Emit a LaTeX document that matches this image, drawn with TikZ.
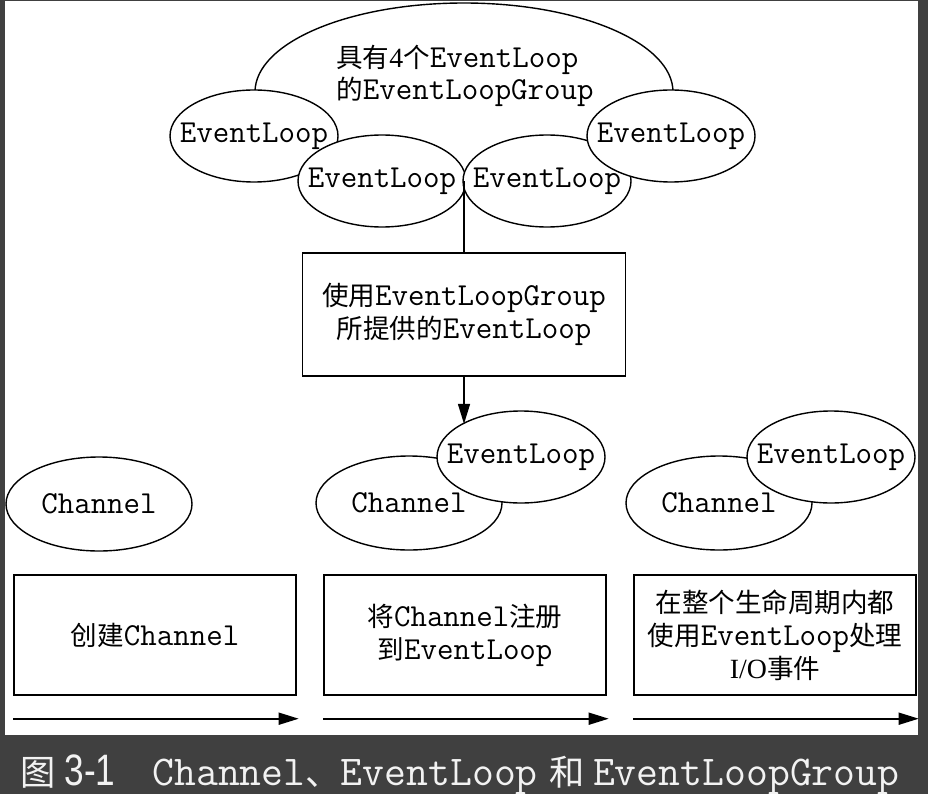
\documentclass[tikz,border=0pt]{standalone}
\usepackage{fontspec}
\setmainfont[Scale=0.87]{Liberation Serif}
\newfontfamily\hanzifont[Scale=0.83]{Noto Sans CJK SC}
\newfontfamily\capsans[FakeStretch=0.8]{Liberation Sans}
\newcommand{\hz}[1]{{\hanzifont #1}}
\usetikzlibrary{shapes.geometric,arrows.meta}
\definecolor{framegray}{HTML}{404040}
\definecolor{captext}{HTML}{F2F2F2}

\begin{document}
\begin{tikzpicture}[
    x=1pt, y=-1pt,
    >={Triangle[length=20pt,width=12pt]},
    evloop/.style={
        ellipse, draw, fill=white, line width=1.4pt,
        minimum width=168pt, minimum height=92pt,
        inner xsep=-20pt, inner ysep=0pt,
        font=\ttfamily\fontsize{32}{33}\selectfont
    },
    chan/.style={evloop, minimum width=186pt, minimum height=94pt},
    stagebox/.style={
        rectangle, draw, fill=white, line width=1.4pt,
        minimum width=282pt, minimum height=120pt, inner sep=0pt,
        align=center, font=\ttfamily\fontsize{32}{33}\selectfont
    }
]

    % Marc
    \useasboundingbox (0,0) rectangle (928,794);
    \fill[framegray] (0,0) rectangle (928,794);
    \fill[white] (5,1) rectangle (918,735);

    % EventLoopGroup
    \node[
        ellipse, draw, fill=white, line width=1.4pt,
        minimum width=418pt, minimum height=178pt
    ] (group) at (464,92) {};
    \node[align=left, inner sep=0pt,
        font=\ttfamily\fontsize{32}{32}\selectfont] (grouptext) at (465,76)
        {\hz{具有}\rmfamily 4\hz{个}\ttfamily EventLoop\\\hz{的}EventLoopGroup};

    % EventLoops del grup
    \node[evloop] (el1) at (254,136) {EventLoop};
    \node[evloop] (el2) at (382,181) {EventLoop};
    \node[evloop] (el3) at (547,181) {EventLoop};
    \node[evloop] (el4) at (671,136) {EventLoop};
    \coordinate (join) at (464,181);

    % Assignacio
    \node[stagebox, minimum width=323pt, minimum height=123pt] (pick) at (464,314.5)
        {\hz{使用}EventLoopGroup\\\hz{所提供的}EventLoop};
    \draw[line width=1.3pt] (join) -- (pick);

    % Channels
    \node[chan] (ch1) at (99,504) {Channel};
    \node[chan] (ch2) at (409,503) {Channel};
    \node[evloop] (el5) at (521,457) {EventLoop};
    \node[chan] (ch3) at (719,503) {Channel};
    \node[evloop] (el6) at (831,457) {EventLoop};
    \draw[->, line width=1.3pt] (pick.south) -- (pick.south |- el5.151);

    % Etapes
    \node[stagebox] (b1) at (155,635) {\hz{创建}Channel};
    \node[stagebox] (b2) at (465,635)
        {\hz{将}Channel\hz{注册}\\\hz{到}EventLoop};
    \node[stagebox] (b3) at (775,635)
        {\hz{在整个生命周期内都}\\\hz{使用}EventLoop\hz{处理}\\\rmfamily I/O\hz{事件}};

    % Fletxes de temps
    \foreach \b in {b1,b2,b3}
        \draw[->, line width=1.6pt]
            ([yshift=-23pt]\b.south west) -- ([yshift=-23pt,xshift=2pt]\b.south east);

    % Peu
    \node[anchor=base west, inner sep=0pt, text=captext,
        font=\ttfamily\fontsize{42.5}{44}\selectfont] (caption) at (20,785)
        {\hz{图}\hspace{9pt}{\capsans\fontsize{44}{48}\selectfont 3-1}\hspace{37pt}Channel\hz{、}EventLoop\hspace{12pt}\hz{和}\hspace{8pt}EventLoopGroup};

\end{tikzpicture}
\end{document}
